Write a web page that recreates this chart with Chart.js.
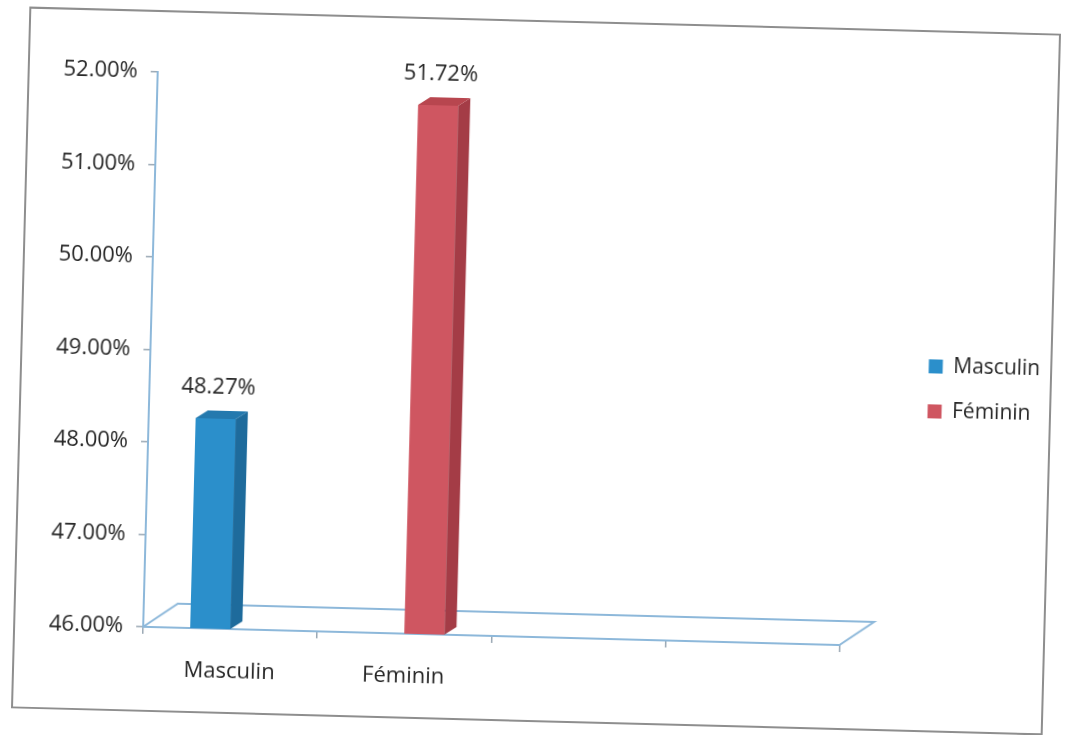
<!DOCTYPE html>
<html>
<head>
<meta charset="utf-8">
<script src="https://cdn.jsdelivr.net/npm/chart.js"></script>
<style>
  body { margin: 0; background: #fff; }
  #cadre {
    position: absolute; left: 20px; top: 20px;
    width: 1028px; height: 698px;
    border: 2px solid #8e8e8e;
    background: #fff;
    transform: rotate(1.5deg);
  }
</style>
</head>
<body>
<div id="cadre"><canvas id="graphiqueSexe" width="1028" height="698"></canvas></div>
<script>
// repartition par sexe
const categories = ['Masculin', 'Féminin', '', '']
const masculin = [48.27, null, null, null]
const feminin = [null, 51.72, null, null]
const graduations = [46, 47, 48, 49, 50, 51, 52]

const bleu = { face: '#2b8fcb', cote: '#1e6b9c', dessus: '#2479ae' }
const rouge = { face: '#cf5661', cote: '#a43c46', dessus: '#b8464f' }

const profondeurBarre = { x: 12, y: -8 }
const profondeurSol = { x: 34, y: -24 }
const couleurAxe = '#8db8da'

const pourcent = v => Number(v).toFixed(2) + '%'

// plancher 3D + cotes des barres + etiquettes
const relief = {
  id: 'relief',
  beforeDatasetsDraw(chart) {
    const { ctx, chartArea: a } = chart
    ctx.save()
    ctx.strokeStyle = couleurAxe
    ctx.lineWidth = 2
    ctx.beginPath()
    ctx.moveTo(a.left, a.bottom)
    ctx.lineTo(a.left + profondeurSol.x, a.bottom + profondeurSol.y)
    ctx.lineTo(a.right + profondeurSol.x, a.bottom + profondeurSol.y)
    ctx.lineTo(a.right, a.bottom)
    ctx.stroke()
    ctx.restore()
  },
  afterDatasetsDraw(chart) {
    const ctx = chart.ctx
    const bas = chart.chartArea.bottom
    ctx.save()
    chart.data.datasets.forEach((ds, i) => {
      chart.getDatasetMeta(i).data.forEach((barre, j) => {
        if (ds.data[j] == null) return
        const { x, y, base, width } = barre.getProps(['x', 'y', 'base', 'width'], true)
        const pied = Math.min(base, bas)
        const g = x - width / 2
        const d = x + width / 2
        const px = profondeurBarre.x, py = profondeurBarre.y

        ctx.fillStyle = ds.couleurs.cote
        ctx.beginPath()
        ctx.moveTo(d, y)
        ctx.lineTo(d + px, y + py)
        ctx.lineTo(d + px, pied + py)
        ctx.lineTo(d, pied)
        ctx.closePath()
        ctx.fill()

        ctx.fillStyle = ds.couleurs.dessus
        ctx.beginPath()
        ctx.moveTo(g, y)
        ctx.lineTo(g + px, y + py)
        ctx.lineTo(d + px, y + py)
        ctx.lineTo(d, y)
        ctx.closePath()
        ctx.fill()

        ctx.fillStyle = '#262626'
        ctx.font = '22px "Open Sans"'
        ctx.textAlign = 'center'
        ctx.textBaseline = 'middle'
        ctx.fillText(pourcent(ds.data[j]), x + 2, y - 31)
      })
    })
    ctx.restore()
  }
}

Chart.defaults.font.family = '"Open Sans", sans-serif'
Chart.defaults.font.size = 22
Chart.defaults.color = '#262626'

const ctx = document.getElementById('graphiqueSexe').getContext('2d')
const graph = new Chart(ctx, {
  type: 'bar',
  data: {
    labels: categories,
    datasets: [
      {
        label: 'Masculin',
        data: masculin,
        backgroundColor: bleu.face,
        couleurs: bleu,
        barPercentage: 1,
        categoryPercentage: 0.46
      },
      {
        label: 'Féminin',
        data: feminin,
        backgroundColor: rouge.face,
        couleurs: rouge,
        barPercentage: 1,
        categoryPercentage: 0.46
      }
    ]
  },
  options: {
    responsive: false,
    animation: false,
    layout: { padding: { left: 28, top: 60, right: 0, bottom: 0 } },
    plugins: {
      legend: {
        position: 'right',
        align: 'start',
        // titre vide : sert juste a descendre la legende
        title: { display: true, text: '', padding: { top: 213, bottom: 0 } },
        labels: { boxWidth: 14, boxHeight: 14, padding: 24, font: { size: 21 } }
      },
      tooltip: { enabled: false }
    },
    scales: {
      x: {
        grid: { drawOnChartArea: false, offset: true, tickLength: 7, color: '#9aa8b4', lineWidth: 1.5 },
        border: { color: couleurAxe, width: 2 },
        ticks: { padding: 23, maxRotation: 0 },
        afterFit: s => { s.height = 83 }
      },
      y: {
        min: 46,
        max: 52,
        afterBuildTicks: s => { s.ticks = graduations.map(v => ({ value: v })) },
        grid: { drawOnChartArea: false, tickLength: 7, color: '#9aa8b4', lineWidth: 1.5 },
        border: { color: couleurAxe, width: 2 },
        ticks: { padding: 13, callback: v => pourcent(v) },
        afterFit: s => { s.width = 100 }
      },
      // espace vide entre le plancher et la legende
      marge: {
        axis: 'y',
        position: 'right',
        display: true,
        grid: { display: false },
        border: { display: false },
        ticks: { display: false },
        afterFit: s => { s.width = 58 }
      }
    }
  },
  plugins: [relief]
})
</script>
</body>
</html>
